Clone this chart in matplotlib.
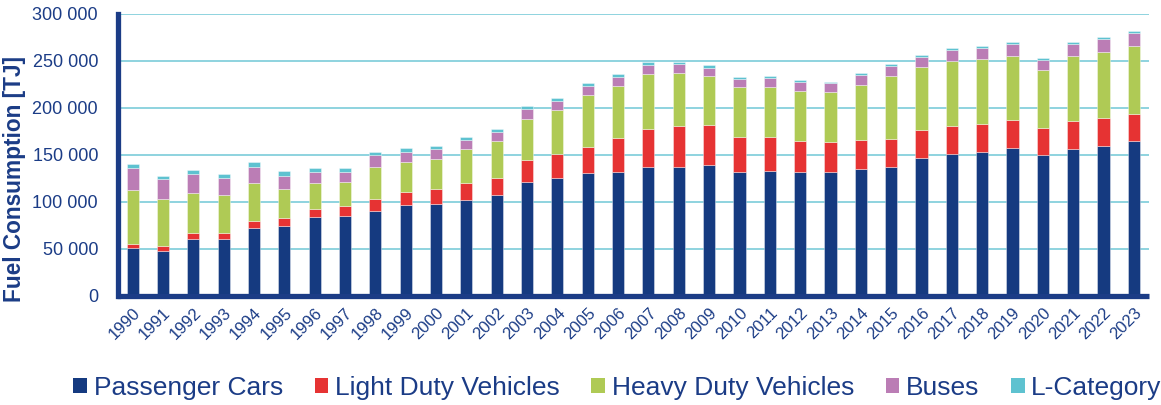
import matplotlib
matplotlib.use("Agg")
import matplotlib.pyplot as plt
import numpy as np

plt.rcParams['font.family'] = ['Liberation Sans', 'DejaVu Sans']

years = [str(y) for y in range(1990, 2024)]

# cumulative tops (TJ)
top_pc = [50.9, 47.7, 60.5, 60.1, 71.9, 74.0, 83.2, 84.7, 90.3, 96.4,
          97.8, 102.1, 107.1, 121.3, 125.2, 130.5, 132.0, 136.9, 136.9, 139.1,
          131.6, 133.0, 131.6, 131.6, 134.8, 137.3, 146.5, 150.5, 153.0, 157.6,
          149.8, 156.2, 159.7, 164.7]
top_ldv = [54.8, 52.6, 66.2, 66.2, 79.3, 82.2, 92.1, 95.0, 103.2, 109.9,
           113.8, 119.5, 125.2, 144.1, 150.5, 158.3, 167.9, 177.5, 180.7, 181.4,
           168.9, 168.9, 164.3, 163.6, 166.1, 166.8, 176.4, 181.1, 182.8, 187.1,
           178.6, 186.0, 189.2, 193.5]
top_hdv = [112.8, 102.4, 109.2, 107.1, 119.9, 113.5, 119.5, 121.3, 136.9, 142.6,
           145.8, 156.2, 165.0, 188.5, 197.8, 213.4, 223.7, 236.5, 237.3, 234.1,
           222.0, 222.0, 217.7, 216.6, 224.8, 234.4, 243.3, 249.7, 251.8, 255.7,
           240.8, 255.0, 260.0, 265.4]
top_bus = [135.9, 123.8, 129.8, 125.6, 137.3, 127.7, 131.6, 131.6, 149.8, 153.3,
           156.2, 166.1, 174.6, 198.8, 207.4, 223.7, 233.0, 246.1, 246.5, 242.9,
           230.8, 231.8, 227.6, 226.2, 234.8, 244.7, 254.0, 261.8, 263.9, 268.2,
           251.5, 268.2, 273.5, 279.9]
top_l = [139.8, 127.7, 134.1, 129.8, 142.3, 132.3, 135.9, 135.5, 153.3, 156.9,
         159.4, 169.3, 177.5, 201.7, 210.2, 226.6, 235.8, 248.6, 249.0, 245.4,
         233.3, 233.7, 229.4, 228.0, 236.9, 246.9, 256.1, 263.6, 266.1, 270.0,
         253.6, 270.0, 276.0, 282.4]

series_names = ["Passenger Cars", "Light Duty Vehicles", "Heavy Duty Vehicles",
                "Buses", "L-Category"]
colors = ["#153a80", "#e63333", "#afca55", "#bb7db5", "#5ec2d0"]

tops = np.array([top_pc, top_ldv, top_hdv, top_bus, top_l]) * 1000
values = np.diff(np.vstack([np.zeros(len(years)), tops]), axis=0)

navy = "#1b3c86"

fig = plt.figure(figsize=(11.61, 4.05), dpi=100)
ax = fig.add_axes([117.5 / 1161, (405 - 295.5) / 405, (1149 - 117.5) / 1161, (295.5 - 14) / 405])

x = np.arange(len(years))
bottom = np.zeros(len(years))
handles = []
for name, vals, c in zip(series_names, values, colors):
    b = ax.bar(x, vals, bottom=bottom, width=0.4, color=c, label=name,
               edgecolor=(1, 1, 1, 0.45), linewidth=0.6, zorder=3)
    handles.append(b)
    bottom = bottom + vals

ax.set_xlim(-0.5, len(years) - 0.5)
ax.set_ylim(0, 300000)
ax.set_yticks(np.arange(0, 300001, 50000))
ax.set_yticklabels(["0"] + [f"{v//1000} 000" for v in range(50000, 300001, 50000)])
ax.yaxis.grid(True, color="#86d0dc", linewidth=1.3, zorder=0)
ax.set_axisbelow(True)

for s in ["top", "right"]:
    ax.spines[s].set_visible(False)
for s in ["left", "bottom"]:
    ax.spines[s].set_color(navy)
    ax.spines[s].set_linewidth(3.8)
    ax.spines[s].set_zorder(4)
ax.spines["bottom"].set_capstyle("butt")

ax.tick_params(axis="y", length=0, pad=14, labelsize=13, labelcolor=navy)
ax.tick_params(axis="x", length=0, pad=7, labelsize=12, labelcolor=navy)
ax.set_xticks(x)
ax.set_xticklabels(years, rotation=45, ha="right", va="top", rotation_mode="anchor")

fig.text(15 / 1161, 1 - 179 / 405, "Fuel Consumption [TJ]", rotation=90,
         ha="center", va="center", fontsize=16.3, fontweight="bold", color=navy)

leg = fig.legend(handles, series_names, loc="center", bbox_to_anchor=(617.5 / 1161, 1 - 388 / 405),
                 ncol=5, frameon=False, fontsize=19, labelcolor=navy,
                 handlelength=0.52, handleheight=0.52, handletextpad=0.25,
                 columnspacing=1.2, borderpad=0, borderaxespad=0)
for h in leg.legend_handles:
    h.set_edgecolor("none")

fig.savefig("out.png", dpi=100)
